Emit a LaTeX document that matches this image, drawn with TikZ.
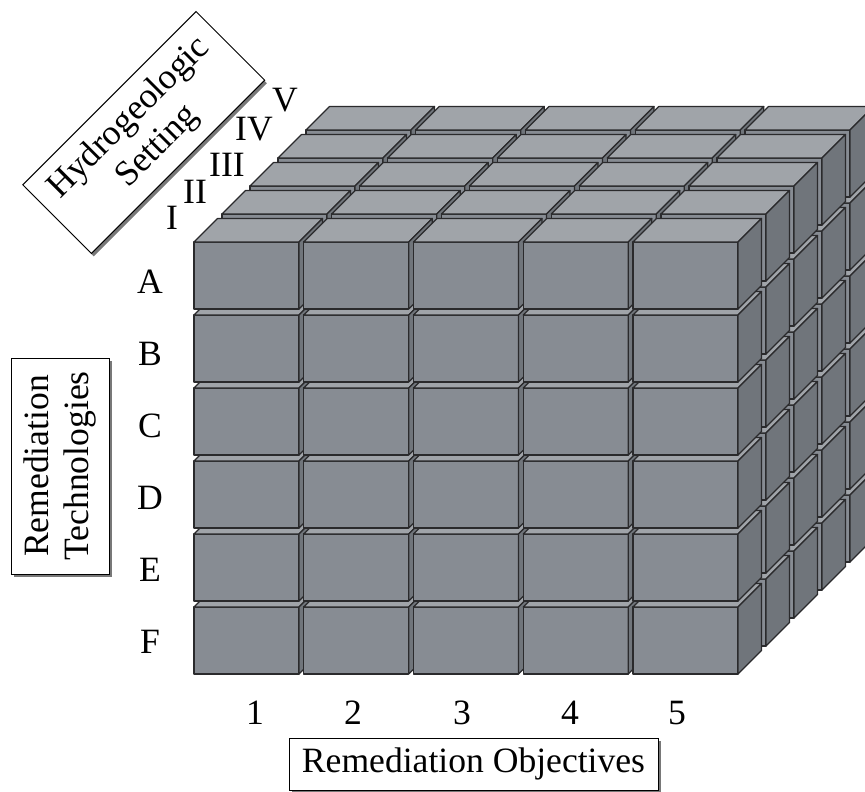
\documentclass[tikz,border=0pt]{standalone}
\usepackage{fontspec}
\setmainfont{Liberation Serif}
\usepackage{tikz}
\usetikzlibrary{calc,positioning}

\definecolor{blockfront}{RGB}{135,140,147}
\definecolor{blocktop}{RGB}{160,164,169}
\definecolor{blockside}{RGB}{112,117,123}
\definecolor{blockedge}{RGB}{42,42,44}
\definecolor{boxshadow}{RGB}{120,120,120}

% ein Block: linke obere Ecke der Vorderseite
\newcommand{\drawblock}[2]{%
	\filldraw[blockline, fill=blockfront] (#1,#2) rectangle ++(105,67);
	\filldraw[blockline, fill=blocktop] (#1,#2) -- ++(23.5,-23.5) -- ++(105,0) -- ++(-23.5,23.5) -- cycle;
	\filldraw[blockline, fill=blockside] (#1+105,#2) -- ++(23.5,-23.5) -- ++(0,67) -- ++(-23.5,23.5) -- cycle;
}

\begin{document}
\begin{tikzpicture}[x=1pt, y=-1pt,
		blockline/.style={draw=blockedge, line width=1.2pt, line join=round},
		lbl/.style={inner sep=0pt, font=\fontsize{35.6}{40}\selectfont},
		titlebox/.style={draw, fill=white, line width=1pt, align=center, inner sep=0pt, font=\fontsize{35.6}{40}\selectfont},
		shadowbox/.style={fill=boxshadow, draw=none, inner sep=0pt}]
	\useasboundingbox (0,0) rectangle (865,792);
	\clip (0,0) rectangle (865,792);
	% Bloecke (hinten nach vorne)
	\foreach \k in {4,3,2,1,0}
		\foreach \r in {5,4,...,0}
			\foreach \c in {0,...,4} {
				\pgfmathsetmacro\bx{194+109.75*\c+28*\k}
				\pgfmathsetmacro\by{242+73*\r-28*\k}
				\drawblock{\bx}{\by}
			}
	% Beschriftung
	\foreach \l/\yy in {A/282,B/354,C/426,D/498,E/570,F/642}
		\node[lbl] (tech\l) at (150,\yy) {\l};
	\foreach \n/\xx in {1/255,2/353,3/462,4/570,5/677}
		\node[lbl] (obj\n) at (\xx,713) {\n};
	\foreach \h/\xx/\yy in {I/172/218,II/195/192,III/227/165,IV/254/129,V/285/100}
		\node[lbl] (hyd\h) at (\xx,\yy) {\h};
	% Kaesten
	\node[shadowbox, rotate=45, minimum width=245pt, minimum height=97pt] (hydroshadow) at (146,135.5) {};
	\node[titlebox, rotate=45, minimum width=245pt, minimum height=97pt] (hydro) at (143.75,132.5) {Hydrogeologic\\Setting};
	\node[shadowbox, rotate=90, minimum width=216pt, minimum height=98pt] (techshadow) at (63,469) {};
	\node[titlebox, rotate=90, minimum width=216pt, minimum height=98pt] (tech) at (60,466) {Remediation\\Technologies};
	\node[shadowbox, minimum width=369pt, minimum height=52pt] (objshadow) at (476.5,767) {};
	\node[titlebox, minimum width=369pt, minimum height=52pt] (obj) at (473.5,764) {Remediation Objectives};
\end{tikzpicture}
\end{document}
